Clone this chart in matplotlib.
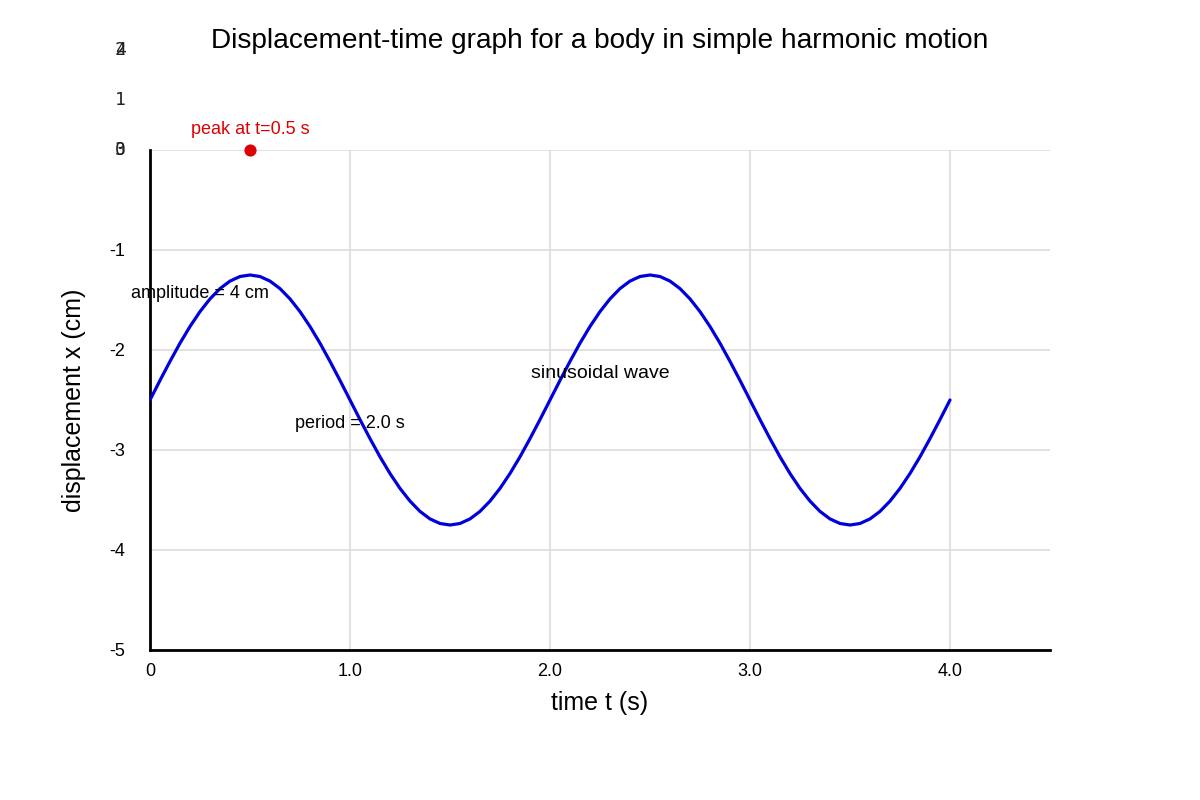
import matplotlib.pyplot as plt

plt.rcParams['font.family'] = ['Liberation Sans', 'DejaVu Sans']

# time (s) and displacement (cm)
t = [0.00, 0.05, 0.10, 0.15, 0.20, 0.25, 0.30, 0.35, 0.40, 0.45,
     0.50, 0.55, 0.60, 0.65, 0.70, 0.75, 0.80, 0.85, 0.90, 0.95,
     1.00, 1.05, 1.10, 1.15, 1.20, 1.25, 1.30, 1.35, 1.40, 1.45,
     1.50, 1.55, 1.60, 1.65, 1.70, 1.75, 1.80, 1.85, 1.90, 1.95,
     2.00, 2.05, 2.10, 2.15, 2.20, 2.25, 2.30, 2.35, 2.40, 2.45,
     2.50, 2.55, 2.60, 2.65, 2.70, 2.75, 2.80, 2.85, 2.90, 2.95,
     3.00, 3.05, 3.10, 3.15, 3.20, 3.25, 3.30, 3.35, 3.40, 3.45,
     3.50, 3.55, 3.60, 3.65, 3.70, 3.75, 3.80, 3.85, 3.90, 3.95,
     4.00]
x = [-2.500, -2.304, -2.114, -1.932, -1.765, -1.616, -1.489, -1.386, -1.311, -1.265,
     -1.250, -1.265, -1.311, -1.386, -1.489, -1.616, -1.765, -1.932, -2.114, -2.304,
     -2.500, -2.696, -2.886, -3.068, -3.235, -3.384, -3.511, -3.614, -3.689, -3.735,
     -3.750, -3.735, -3.689, -3.614, -3.511, -3.384, -3.235, -3.068, -2.886, -2.696,
     -2.500, -2.304, -2.114, -1.932, -1.765, -1.616, -1.489, -1.386, -1.311, -1.265,
     -1.250, -1.265, -1.311, -1.386, -1.489, -1.616, -1.765, -1.932, -2.114, -2.304,
     -2.500, -2.696, -2.886, -3.068, -3.235, -3.384, -3.511, -3.614, -3.689, -3.735,
     -3.750, -3.735, -3.689, -3.614, -3.511, -3.384, -3.235, -3.068, -2.886, -2.696,
     -2.500]

peak_t = [0.5]
peak_x = [0.0]

x_ticks = [0, 1, 2, 3, 4]
x_tick_labels = ['0', '1.0', '2.0', '3.0', '4.0']
y_ticks = [-5, -4, -3, -2, -1]
y_tick_labels = ['-5', '-4', '-3', '-2', '-1']

# stray labels drawn above the axis
extra_labels = ['0', '3', '1', '2', '4']
extra_pos = [0.0, 0.0, 0.5, 1.0, 1.0]

fig = plt.figure(figsize=(12, 8), dpi=100)
ax = fig.add_axes([0.125, 0.1875, 0.75, 0.625])

ax.set_xlim(0, 4.5)
ax.set_ylim(-5, 0)

ax.set_xticks(x_ticks)
ax.set_xticklabels(x_tick_labels)
ax.set_yticks(y_ticks + [0])
ax.set_yticklabels(y_tick_labels + [''])
ax.tick_params(length=0, labelsize=13, pad=9)
ax.tick_params(axis='y', pad=18)

ax.grid(True, color='#dddddd', linewidth=1.2)
ax.set_axisbelow(True)
for s in ['top', 'right']:
    ax.spines[s].set_visible(False)
for s in ['left', 'bottom']:
    ax.spines[s].set_linewidth(2)
    ax.spines[s].set_color('black')

ax.plot(t, x, color='#0000dd', linewidth=2.3, zorder=3,
        solid_joinstyle='round', solid_capstyle='round')
ax.scatter(peak_t, peak_x, color='#dd0000', s=60, zorder=4, clip_on=False)

ax.text(0.5, 0.21, 'peak at t=0.5 s', color='#dd0000', fontsize=13,
        ha='center', va='center',
        bbox=dict(facecolor='white', edgecolor='none', pad=1))
ax.text(0.25, -1.44, 'amplitude = 4 cm', fontsize=13, ha='center', va='center')
ax.text(1.0, -2.74, 'period = 2.0 s', fontsize=13, ha='center', va='center')
ax.text(2.25, -2.23, 'sinusoidal wave', fontsize=14, ha='center', va='center')

for lab, pos in zip(extra_labels, extra_pos):
    ax.text(-0.15, pos, lab, fontsize=13, family='DejaVu Sans Mono',
            ha='center', va='center', clip_on=False, color='#222222')

ax.set_xlabel('time t (s)', fontsize=18, labelpad=8)
ax.set_ylabel('displacement x (cm)', fontsize=18, labelpad=17)
fig.suptitle('Displacement-time graph for a body in simple harmonic motion',
             fontsize=20.2, y=0.965)

fig.savefig('out.png', dpi=100)
